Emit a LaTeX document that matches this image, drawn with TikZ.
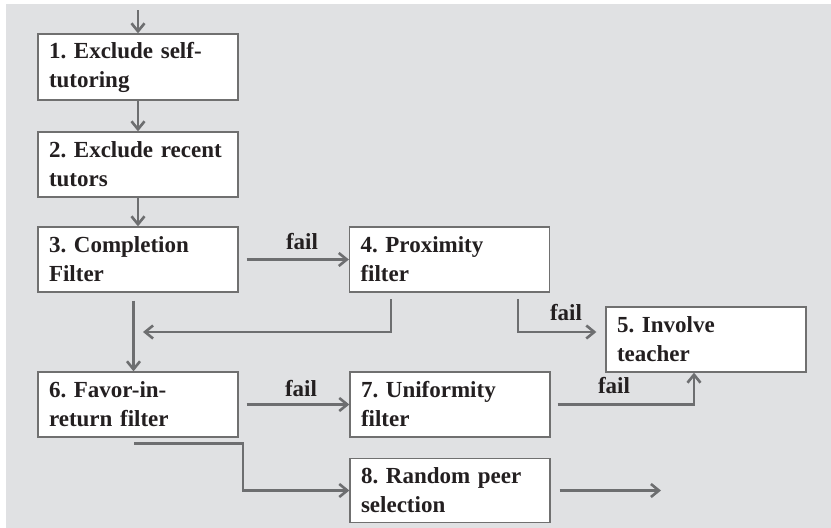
\documentclass[tikz,border=0pt]{standalone}
\usepackage{fontspec}
\setmainfont{Liberation Serif}
\usetikzlibrary{arrows.meta,calc}
\definecolor{bggray}{RGB}{224,225,227}
\definecolor{linegray}{RGB}{109,110,112}
\definecolor{boxgray}{RGB}{112,112,112}
\definecolor{txt}{RGB}{35,31,32}
\frenchspacing
\begin{document}
\begin{tikzpicture}[x=1pt,y=-1pt,
  stepbox/.style={draw=boxgray,line width=1.3pt,fill=white,rectangle,
    minimum width=200pt,minimum height=65pt,text width=178pt,
    inner xsep=11pt,inner ysep=0pt,align=left,
    font=\fontsize{23}{29}\selectfont\bfseries,text=txt},
  conn/.style={draw=linegray,line width=2.6pt,
    -{Straight Barb[length=8pt,width=13pt]}},
  lbl/.style={font=\fontsize{23}{27}\selectfont\bfseries,text=txt,inner sep=0pt}]
\useasboundingbox (0,0) rectangle (831,528);
\fill[white] (0,0) rectangle (831,528);
\fill[bggray] (6,4) rectangle (831,528);

\node[stepbox,minimum height=66pt] (b1) at (138,67) {1. Exclude self-\\tutoring};
\node[stepbox] (b2) at (138,164.5) {2. Exclude recent\\tutors};
\node[stepbox] (b3) at (138,259.5) {3. Completion\\Filter};
\node[stepbox] (b4) at (449.5,259.5) {4. Proximity\\filter};
\node[stepbox] (b5) at (706,339.5) {5. Involve\\teacher};
\node[stepbox] (b6) at (138,404.5) {6. Favor-in-\\return filter};
\node[stepbox] (b7) at (450,404.5) {7. Uniformity\\filter};
\node[stepbox,minimum height=64pt] (b8) at (450,490.5) {8. Random peer\\selection};

\coordinate (in) at (138,10);
\coordinate (r4) at (391,299);
\coordinate (back) at (143,332);
\coordinate (f4) at (518,299);
\coordinate (bend68) at (243,470);
\coordinate (out) at (661,490.5);

\draw[conn] (in) -- (b1.north);
\draw[conn] (b1) -- (b2);
\draw[conn] (b2) -- (b3);
\draw[conn] ([xshift=8pt]b3.east) -- (b4.west);
\draw[conn] ([xshift=-4.5pt,yshift=-8pt]b3.south) -- ([xshift=-4.5pt]b6.north);
\draw[conn] (r4) |- (back);
\draw[conn] (f4) |- ([xshift=-9pt,yshift=7.5pt]b5.west);
\draw[conn] ([xshift=8pt]b6.east) -- (b7.west);
\draw[conn] ([xshift=7pt]b7.east) -| ([xshift=-12pt]b5.south);
\draw[conn] ([xshift=-4pt,yshift=-6pt]b6.south) -| (bend68) |- (b8.west);
\draw[conn] ([xshift=9pt]b8.east) -- (out);

\node[lbl] (l1) at (302,242) {fail};
\node[lbl] (l2) at (566,313) {fail};
\node[lbl] (l3) at (301,389) {fail};
\node[lbl] (l4) at (614,386) {fail};
\end{tikzpicture}
\end{document}
